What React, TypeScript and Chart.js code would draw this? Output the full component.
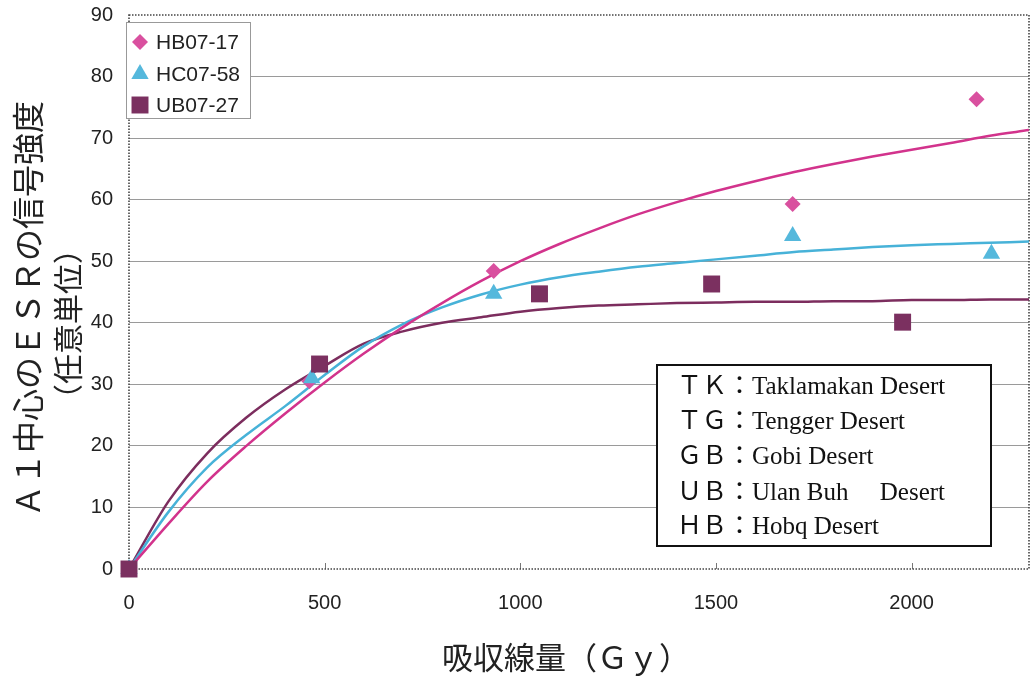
import React, { useEffect, useRef } from "react";
import { Chart, registerables } from "chart.js";
import { drawPoint } from "chart.js/helpers";

Chart.register(...registerables);

// Measured points
const hbDose = [0, 461, 932, 1696, 2166];
const hbVal = [0, 30.5, 48.4, 59.3, 76.3];
const hcDose = [0, 467, 932, 1696, 2204];
const hcVal = [0, 31.0, 44.7, 54.1, 51.2];
const ubDose = [0, 487, 1049, 1489, 1977];
const ubVal = [0, 33.3, 44.7, 46.3, 40.1];

// Fitted curves (every 100 Gy)
const curveDose = [0, 100, 200, 300, 400, 500, 600, 700, 800, 900, 1000, 1100, 1200, 1300, 1400, 1500, 1600, 1700, 1800, 1900, 2000, 2100, 2200, 2300];
const hbCurve = [0, 7.3, 14.2, 20.0, 25.3, 30.3, 35.0, 39.3, 43.2, 46.8, 50.0, 52.8, 55.3, 57.6, 59.6, 61.4, 63.0, 64.5, 65.8, 67.0, 68.1, 69.2, 70.4, 71.3];
const hcCurve = [0, 9.2, 16.5, 21.8, 26.5, 31.5, 36.2, 39.8, 42.5, 44.6, 46.2, 47.4, 48.3, 49.1, 49.7, 50.3, 50.9, 51.5, 51.9, 52.3, 52.6, 52.8, 53.0, 53.2];
const ubCurve = [0, 10.9, 18.8, 24.6, 29.2, 33.0, 36.6, 38.6, 40.0, 40.9, 41.8, 42.4, 42.8, 43.0, 43.2, 43.3, 43.4, 43.4, 43.5, 43.5, 43.7, 43.7, 43.8, 43.8];

const seriesNames = ["HB07-17", "HC07-58", "UB07-27"];
const xTicks = [0, 500, 1000, 1500, 2000];
const yTicks = [0, 10, 20, 30, 40, 50, 60, 70, 80, 90];
const yTitleMain = "Ａ１中心のＥＳＲの信号強度";
const yTitleSub = "（任意単位）";
const xTitle = "吸収線量（Ｇｙ）";
const desertLines = [
  "ＴＫ：Taklamakan Desert",
  "ＴＧ：Tengger Desert",
  "ＧＢ：Gobi Desert",
  "ＵＢ：Ulan Buh　 Desert",
  "ＨＢ：Hobq Desert",
];

const RIGHT_MARGIN = 7;

const C_HB = "#d2338c";
const C_HB_PT = "#d9509f";
const C_HC = "#47b2d8";
const C_HC_PT = "#55b8dc";
const C_UB = "#7c2d5e";
const C_UB_PT = "#7b3060";

const pts = (xs: number[], ys: number[]) => xs.map((x, i) => ({ x, y: ys[i] }));

const decoPlugin = {
  id: "deco",
  afterLayout(chart: any) {
    const area = chart.chartArea;
    const target = chart.width - RIGHT_MARGIN;
    if (area.right !== target) {
      area.right = target;
      area.width = area.right - area.left;
      const x = chart.scales.x;
      x.right = target;
      x.width = x.right - x.left;
      x.configure();
    }
  },
  beforeDatasetsDraw(chart: any) {
    const { ctx, chartArea } = chart;
    const { left, right, top, bottom } = chartArea;
    const x = chart.scales.x;
    ctx.save();
    ctx.strokeStyle = "#777";
    ctx.lineWidth = 1;
    xTicks.filter((v) => v > 0).forEach((v) => {
      const px = Math.round(x.getPixelForValue(v)) + 0.5;
      ctx.beginPath();
      ctx.moveTo(px, bottom);
      ctx.lineTo(px, bottom - 6);
      ctx.stroke();
    });
    ctx.setLineDash([1.5, 1.5]);
    ctx.strokeStyle = "#444";
    ctx.lineWidth = 1.6;
    ctx.strokeRect(left, top, right - left, bottom - top);
    ctx.restore();
  },
  afterDraw(chart: any) {
    const { ctx } = chart;
    ctx.save();
    // Legend box
    ctx.fillStyle = "#ffffff";
    ctx.fillRect(126.5, 22.5, 124, 96);
    ctx.strokeStyle = "#999";
    ctx.lineWidth = 1;
    ctx.strokeRect(126.5, 22.5, 124, 96);
    const legendStyles = [
      { style: "rectRot", color: C_HB_PT, r: 8 },
      { style: "triangle", color: C_HC_PT, r: 10 },
      { style: "rect", color: C_UB_PT, r: 12 },
    ];
    const rows = [42, 74, 105];
    legendStyles.forEach((s, i) => {
      ctx.fillStyle = s.color;
      ctx.strokeStyle = s.color;
      drawPoint(ctx, { pointStyle: s.style, radius: s.r, rotation: 0, borderWidth: 0 } as any, 140, rows[i]);
      ctx.fillStyle = "#222";
      ctx.font = '21px "Liberation Sans", Arial, sans-serif';
      ctx.textAlign = "left";
      ctx.textBaseline = "middle";
      ctx.fillText(seriesNames[i], 156, rows[i] + 1);
    });

    // Desert box
    ctx.fillStyle = "#ffffff";
    ctx.fillRect(657, 365, 334, 181);
    ctx.strokeStyle = "#111";
    ctx.lineWidth = 2;
    ctx.strokeRect(657, 365, 334, 181);
    ctx.fillStyle = "#111";
    ctx.font = '25px "Liberation Serif", "Noto Sans CJK JP", serif';
    ctx.textAlign = "left";
    ctx.textBaseline = "middle";
    const dy = [387, 422, 457, 493, 527];
    desertLines.forEach((t, i) => ctx.fillText(t, 677, dy[i]));

    // Axis titles
    ctx.fillStyle = "#222";
    ctx.textAlign = "center";
    ctx.textBaseline = "middle";
    ctx.font = '32px "Noto Sans CJK JP", sans-serif';
    ctx.save();
    ctx.translate(28, 309);
    ctx.rotate(-Math.PI / 2);
    ctx.fillText(yTitleMain, 0, 0);
    ctx.restore();
    ctx.save();
    ctx.font = '30px "Noto Sans CJK JP", sans-serif';
    ctx.translate(68, 324);
    ctx.rotate(-Math.PI / 2);
    ctx.fillText(yTitleSub, 0, 0);
    ctx.restore();
    ctx.font = '31px "Noto Sans CJK JP", sans-serif';
    ctx.fillText(xTitle, 566, 657);
    ctx.restore();
  },
};

export default function App() {
  const ref = useRef<HTMLCanvasElement | null>(null);
  useEffect(() => {
    if (!ref.current) return;
    const chart = new Chart(ref.current, {
      type: "scatter",
      data: {
        datasets: [
          { label: seriesNames[0], order: 3, clip: false, data: pts(hbDose, hbVal), pointStyle: "rectRot", pointRadius: 8, backgroundColor: C_HB_PT, borderColor: C_HB_PT, borderWidth: 0, showLine: false },
          { label: seriesNames[1], order: 2, clip: false, data: pts(hcDose, hcVal), pointStyle: "triangle", pointRadius: 10, backgroundColor: C_HC_PT, borderColor: C_HC_PT, borderWidth: 0, showLine: false },
          { label: seriesNames[2], order: 1, clip: false, data: pts(ubDose, ubVal), pointStyle: "rect", pointRadius: 12, backgroundColor: C_UB_PT, borderColor: C_UB_PT, borderWidth: 0, showLine: false },
          { label: "fit HB", order: 4, data: pts(curveDose, hbCurve), showLine: true, pointRadius: 0, borderColor: C_HB, borderWidth: 2.5, cubicInterpolationMode: "monotone", fill: false },
          { label: "fit HC", order: 5, data: pts(curveDose, hcCurve), showLine: true, pointRadius: 0, borderColor: C_HC, borderWidth: 2.5, cubicInterpolationMode: "monotone", fill: false },
          { label: "fit UB", order: 6, data: pts(curveDose, ubCurve), showLine: true, pointRadius: 0, borderColor: C_UB, borderWidth: 2.5, cubicInterpolationMode: "monotone", fill: false },
        ] as any,
      },
      options: {
        responsive: false,
        animation: false,
        devicePixelRatio: 1,
        layout: { padding: { top: 15, right: RIGHT_MARGIN, left: 0, bottom: 0 } },
        plugins: { legend: { display: false }, tooltip: { enabled: false } },
        scales: {
          x: {
            type: "linear",
            min: 0,
            max: 2300,
            afterFit: (s: any) => { s.height = 109; s.paddingLeft = 0; s.paddingRight = 0; },
            afterBuildTicks: (s: any) => { s.ticks = xTicks.map((v) => ({ value: v })); },
            ticks: { padding: 22, color: "#222", font: { family: '"Liberation Sans", Arial, sans-serif', size: 20 }, callback: (v: any) => String(v) },
            grid: { display: false, drawTicks: false },
            border: { display: false },
          },
          y: {
            min: 0,
            max: 90,
            afterFit: (s: any) => { s.width = 129; s.paddingTop = 0; s.paddingBottom = 0; },
            afterBuildTicks: (s: any) => { s.ticks = yTicks.map((v) => ({ value: v })); },
            ticks: { padding: 16, color: "#222", font: { family: '"Liberation Sans", Arial, sans-serif', size: 20, lineHeight: 0.5 }, callback: (v: any) => String(v) },
            grid: {
              drawTicks: false,
              lineWidth: 1,
              color: (c: any) => (c.tick && (c.tick.value === 0 || c.tick.value === 90) ? "rgba(0,0,0,0)" : "#9a9a9a"),
            },
            border: { display: false },
          },
        },
      } as any,
      plugins: [decoPlugin],
    });
    return () => chart.destroy();
  }, []);
  return (
    <div style={{ position: "absolute", left: 0, top: 0, width: 1036, height: 678, background: "#fff" }}>
      <canvas ref={ref} width={1036} height={678} style={{ display: "block" }} />
    </div>
  );
}
